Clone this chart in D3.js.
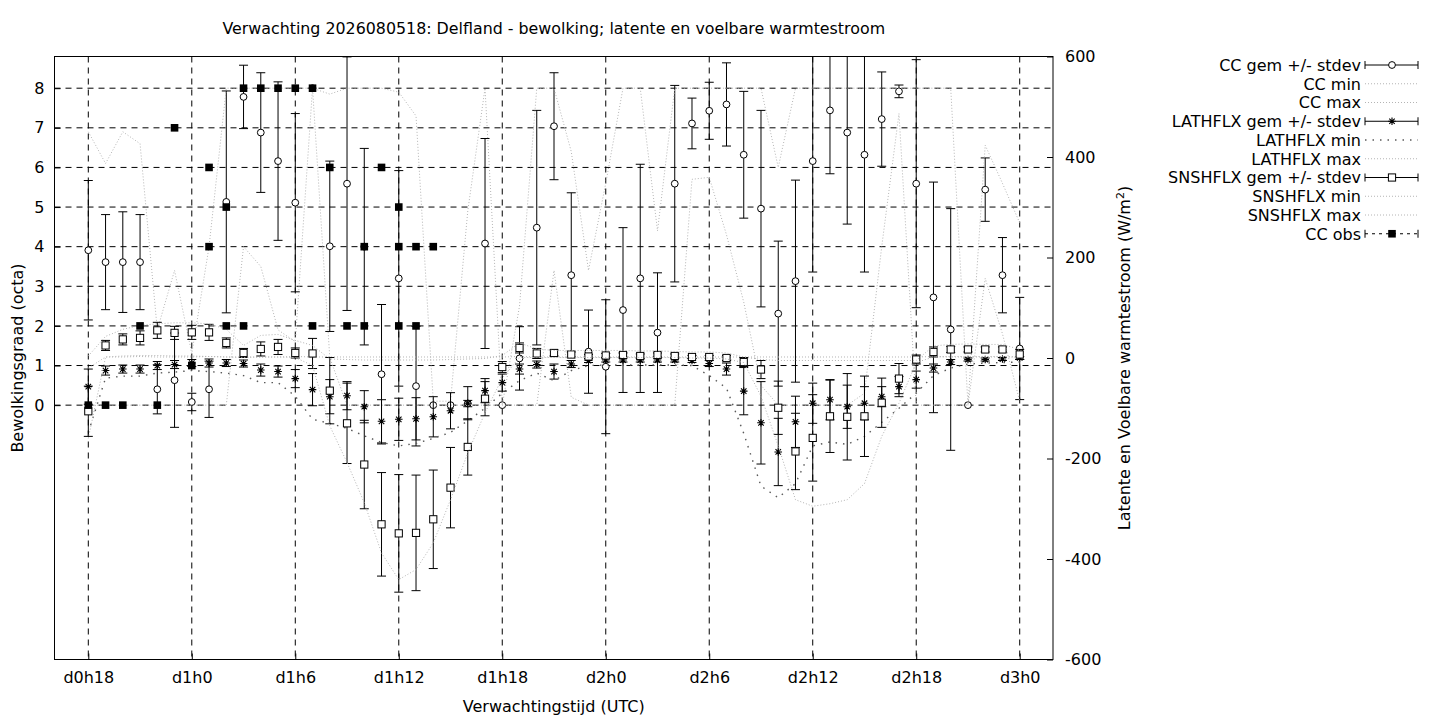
<!DOCTYPE html>
<html>
<head>
<meta charset="utf-8">
<script src="https://cdn.jsdelivr.net/npm/d3@7"></script>
<style>
  body { margin: 0; background: #fff; }
  svg { font-family: "DejaVu Sans", sans-serif; }
</style>
</head>
<body>
<div id="plot"></div>
<script>
// forecast hours (0 = d0h0)
const hours = [18,19,20,21,22,23,24,25,26,27,28,29,30,31,32,33,34,35,36,37,38,39,40,41,42,43,44,45,
  46,47,48,49,50,51,52,53,54,55,56,57,58,59,60,61,62,63,64,65,66,67,68,69,70,71,72];

// cloud cover (octa)
const ccMean = [3.91,3.61,3.61,3.61,0.40,0.63,0.08,0.40,5.13,7.78,6.88,6.16,5.11,8.00,4.01,5.59,4.00,0.78,3.20,0.48,
  0.00,0.00,0.04,4.08,0.00,1.18,4.48,7.04,3.28,1.35,0.97,2.40,3.20,1.83,5.59,7.11,7.43,7.59,6.32,4.96,
  2.31,3.13,6.16,7.44,6.88,6.32,7.22,7.92,5.59,2.72,1.91,0.00,5.44,3.28,1.43];
const ccSd = [1.76,1.20,1.27,1.20,0.62,1.19,0.22,0.71,2.80,0.80,1.51,2.00,2.25,0.00,2.15,3.20,2.48,1.76,2.72,1.51,
  0.00,0.00,0.08,2.65,0.00,0.80,2.96,1.35,2.08,1.05,1.69,2.08,2.88,1.51,2.48,0.64,0.72,1.05,1.60,2.48,
  1.83,2.55,2.80,1.60,2.31,2.96,1.19,0.16,3.13,2.91,3.05,0.00,0.80,0.95,1.29];
const ccMin = [0,0,0,0,0,0,0,0,0,4.0,3.5,1.9,1.6,8.0,1.2,0,0,0,0,0,
  0,0,0,0,0,0,0,3.4,0.2,0,0,0,0,0,0,5.7,5.75,4.3,2.6,0.5,
  0,0,0,0,0,0.3,4.0,7.36,0,0,0,0,3.2,1.8,0.1];
const ccMax = [6.9,6.1,6.9,6.6,1.9,3.4,1.3,4.0,8,8,8,8,8,8,7.85,8,8,8,7.9,7.3,
  0.1,0.1,4.9,8,0,2.5,8,8,6.4,3.4,5.6,8,8,4.4,8,8,8,8,8,8,
  6.0,8,8,8,8,8,8,8,8,8,8,0,6.56,5.6,4.6];

// latent heat flux (W/m2)
const lhMean = [-57,-25,-22,-22,-15,-13,-10,-10,-10,-11,-24,-27,-41,-63,-77,-75,-97,-126,-122,-121,
  -117,-105,-90,-65,-49,-22,-13,-27,-12,-5,-4,-4,-4,-4,-4,-5,-11,-22,-66,-129,
  -187,-127,-90,-83,-97,-90,-77,-57,-43,-20,-8,-3,-3,-2,0];
const lhSd = [35,9,8,8,8,8,7,8,7,7,12,11,18,32,34,28,32,43,42,42,
  40,36,33,24,17,10,7,15,7,4,4,4,4,4,4,4,6,12,47,82,
  67,51,40,40,43,33,20,20,17,8,5,3,3,3,3];
const lhMin = [-148,-40,-36,-36,-30,-28,-25,-27,-30,-35,-49,-49,-76,-122,-130,-140,-155,-168,-175,-170,
  -160,-148,-125,-100,-70,-45,-30,-45,-25,-15,-14,-14,-14,-14,-14,-15,-35,-60,-150,-255,
  -278,-250,-175,-167,-172,-156,-128,-100,-70,-35,-20,-12,-10,-9,-8];
const lhMax = [-20,2,2,3,2,2,2,3,2,2,2,2,3,2,2,2,2,2,2,2,
  2,2,2,2,2,3,2,2,2,2,2,2,2,2,2,2,2,2,2,2,
  2,2,2,2,2,2,2,2,2,3,2,2,2,2,3];

// sensible heat flux (W/m2)
const shMean = [-106,25,37,40,55,50,51,51,30,10,18,22,10,9,-65,-130,-212,-331,-349,-348,
  -321,-258,-177,-81,-18,20,9,10,7,3,5,6,4,6,4,2,2,0,-8,-23,
  -99,-186,-159,-116,-117,-116,-89,-41,-3,12,17,17,17,17,7];
const shSd = [50,10,11,14,16,13,14,16,10,9,14,15,10,30,66,80,88,103,117,115,
  98,80,56,34,11,10,10,6,5,4,4,4,4,4,4,3,3,5,9,18,
  53,76,86,72,86,80,49,30,9,10,6,5,5,5,10];
const shMin = [-160,2,4,5,5,4,4,3,2,1,2,2,1,-15,-135,-208,-288,-388,-441,-421,
  -368,-282,-189,-109,-40,1,1,1,1,1,1,1,1,1,1,0,0,-2,-9,-76,
  -175,-282,-295,-290,-282,-250,-156,-90,-9,2,3,3,3,3,1];
const shMax = [4,43,57,65,68,70,70,68,57,25,45,47,35,25,-2,-3,-4,-4,-4,-4,
  -4,-3,-2,-1,5,30,18,15,15,15,15,15,14,14,13,12,12,10,2,-3,
  -5,-5,-5,-5,-5,-5,-5,-5,-5,24,27,28,27,27,17];

// observed cloud cover (octa)
const obsHour = [18,19,20,21,22,23,24,25,25,26,26,27,27,28,29,30,31,31,32,33,34,34,35,36,36,36,37,37,38];
const obsCC   = [0,0,0,2,0,7,1,6,4,5,2,8,2,8,8,8,8,2,6,2,4,2,6,5,4,2,4,2,4];

// ticks
const xTickHours = [18,24,30,36,42,48,54,60,66,72];
const xTickLabels = ["d0h18","d1h0","d1h6","d1h12","d1h18","d2h0","d2h6","d2h12","d2h18","d3h0"];
const ccTicks = [0,1,2,3,4,5,6,7,8];
const fluxTicks = [-600,-400,-200,0,200,400,600];

const legendNames = ["CC gem +/- stdev","CC min","CC max","LATHFLX gem +/- stdev","LATHFLX min",
  "LATHFLX max","SNSHFLX gem +/- stdev","SNSHFLX min","SNSHFLX max","CC obs"];

const pLeft = 54.5, pRight = 1053, pTop = 56.5, pBottom = 659.5;

const svg = d3.select("#plot").append("svg")
    .attr("width", 1440)
    .attr("height", 720);

const x = d3.scaleLinear().domain([16.04, 73.93]).range([pLeft, pRight]);
const y1 = d3.scaleLinear().domain([-6.42, 8.8]).range([pBottom, pTop]);
const y2 = d3.scaleLinear().domain([-600, 600]).range([pBottom, pTop]);

const light = {stroke: "#b4b4b4", dash: "1,2", width: 1};
const dark = {stroke: "#5a5a5a", dash: "1.5,6", width: 1.4};

svg.append("defs").append("clipPath").attr("id", "clip")
  .append("rect")
    .attr("x", pLeft).attr("y", pTop)
    .attr("width", pRight - pLeft).attr("height", pBottom - pTop);

// grid
const grid = svg.append("g");
grid.selectAll("line.vg").data(xTickHours).enter().append("line")
    .attr("class", "vg")
    .attr("x1", d => x(d)).attr("x2", d => x(d))
    .attr("y1", pTop).attr("y2", pBottom)
    .attr("stroke", "black").attr("stroke-width", 1)
    .attr("stroke-dasharray", "6,5");
grid.selectAll("line.hg").data(ccTicks).enter().append("line")
    .attr("class", "hg")
    .attr("x1", pLeft).attr("x2", pRight)
    .attr("y1", d => y1(d)).attr("y2", d => y1(d))
    .attr("stroke", "black").attr("stroke-width", 1)
    .attr("stroke-dasharray", "6,5");

const plot = svg.append("g").attr("clip-path", "url(#clip)");

function drawMarker(g, type, cx, cy) {
  if (type === "circle") {
    g.append("circle").attr("cx", cx).attr("cy", cy).attr("r", 3.4)
      .attr("fill", "white").attr("stroke", "black").attr("stroke-width", 1);
  } else if (type === "box") {
    g.append("rect").attr("x", cx - 3.6).attr("y", cy - 3.6).attr("width", 7.2).attr("height", 7.2)
      .attr("fill", "white").attr("stroke", "black").attr("stroke-width", 1);
  } else if (type === "filled") {
    g.append("rect").attr("x", cx - 3.8).attr("y", cy - 3.8).attr("width", 7.6).attr("height", 7.6)
      .attr("fill", "black");
  } else if (type === "star") {
    const s = 3.8, d = s * 0.72;
    g.append("path")
      .attr("d", `M${cx - s},${cy}L${cx + s},${cy}M${cx},${cy - s}L${cx},${cy + s}` +
                 `M${cx - d},${cy - d}L${cx + d},${cy + d}M${cx - d},${cy + d}L${cx + d},${cy - d}`)
      .attr("stroke", "black").attr("stroke-width", 1.1).attr("fill", "none");
  }
}

function errorBars(mean, sd, ys, marker) {
  const g = plot.append("g");
  hours.forEach((h, i) => {
    if (sd[i] <= 0) return;
    const cx = x(h), lo = ys(mean[i] - sd[i]), hi = ys(mean[i] + sd[i]);
    g.append("line").attr("x1", cx).attr("x2", cx).attr("y1", lo).attr("y2", hi)
      .attr("stroke", "black").attr("stroke-width", 1);
    [lo, hi].forEach(yy => {
      g.append("line").attr("x1", cx - 4.5).attr("x2", cx + 4.5).attr("y1", yy).attr("y2", yy)
        .attr("stroke", "black").attr("stroke-width", 1);
    });
  });
  hours.forEach((h, i) => drawMarker(g, marker, x(h), ys(mean[i])));
}

function dottedLine(values, ys, style) {
  const line = d3.line().x((d, i) => x(hours[i])).y(d => ys(d));
  plot.append("path").datum(values)
    .attr("d", line)
    .attr("fill", "none")
    .attr("stroke", style.stroke)
    .attr("stroke-width", style.width)
    .attr("stroke-dasharray", style.dash);
}

// plotted in legend order
errorBars(ccMean, ccSd, y1, "circle");
dottedLine(ccMin, y1, light);
dottedLine(ccMax, y1, light);
errorBars(lhMean, lhSd, y2, "star");
dottedLine(lhMin, y2, dark);
dottedLine(lhMax, y2, light);
errorBars(shMean, shSd, y2, "box");
dottedLine(shMin, y2, light);
dottedLine(shMax, y2, light);

const obsG = plot.append("g");
obsHour.forEach((h, i) => drawMarker(obsG, "filled", x(h), y1(obsCC[i])));

// axes
const xAxis = d3.axisBottom(x).tickValues(xTickHours)
    .tickFormat((d, i) => xTickLabels[i]).tickSize(-6).tickPadding(12);
const gx = svg.append("g").attr("transform", `translate(0,${pBottom})`).call(xAxis);

const yAxis = d3.axisLeft(y1).tickValues(ccTicks).tickFormat(d3.format("d"))
    .tickSize(-6).tickPadding(10);
const gy = svg.append("g").attr("transform", `translate(${pLeft},0)`).call(yAxis);

const y2Axis = d3.axisRight(y2).tickValues(fluxTicks).tickFormat(d => String(d))
    .tickSize(-6).tickPadding(12);
const gy2 = svg.append("g").attr("transform", `translate(${pRight},0)`).call(y2Axis);

[gx, gy, gy2].forEach(g => {
  g.select(".domain").remove();
  g.selectAll("text").attr("font-size", 16).attr("fill", "black")
    .attr("font-family", '"DejaVu Sans", sans-serif');
  g.selectAll(".tick line").attr("stroke", "black");
});

svg.append("rect")
    .attr("x", pLeft).attr("y", pTop)
    .attr("width", pRight - pLeft).attr("height", pBottom - pTop)
    .attr("fill", "none").attr("stroke", "black").attr("stroke-width", 1);

// titles
svg.append("text")
    .attr("x", (pLeft + pRight) / 2).attr("y", 34)
    .attr("text-anchor", "middle").attr("font-size", 15.85)
    .text("Verwachting 2026080518: Delfland - bewolking; latente en voelbare warmtestroom");

svg.append("text")
    .attr("x", (pLeft + pRight) / 2).attr("y", 712)
    .attr("text-anchor", "middle").attr("font-size", 16)
    .text("Verwachtingstijd (UTC)");

svg.append("text")
    .attr("transform", `translate(23,${(pTop + pBottom) / 2}) rotate(-90)`)
    .attr("text-anchor", "middle").attr("font-size", 16)
    .text("Bewolkingsgraad (octa)");

const rl = svg.append("text")
    .attr("transform", `translate(1130,${(pTop + pBottom) / 2}) rotate(-90)`)
    .attr("text-anchor", "middle").attr("font-size", 16);
rl.append("tspan").text("Latente en Voelbare warmtestroom (W/m");
rl.append("tspan").attr("font-size", 11).attr("dy", -6).text("2");
rl.append("tspan").attr("dy", 6).text(")");

// legend
const legend = svg.append("g");
const legendTypes = [
  {kind: "err", marker: "circle"}, {kind: "line", style: light}, {kind: "line", style: light},
  {kind: "err", marker: "star"}, {kind: "line", style: dark}, {kind: "line", style: light},
  {kind: "err", marker: "box"}, {kind: "line", style: light}, {kind: "line", style: light},
  {kind: "obs", marker: "filled"}
];
legendNames.forEach((name, i) => {
  const yy = 65 + i * 18.75;
  const lx0 = 1365, lx1 = 1418;
  legend.append("text")
    .attr("x", 1361).attr("y", yy).attr("dy", "0.36em")
    .attr("text-anchor", "end").attr("font-size", 16)
    .text(name);
  const t = legendTypes[i];
  if (t.kind === "line") {
    legend.append("line").attr("x1", lx0).attr("x2", lx1).attr("y1", yy).attr("y2", yy)
      .attr("stroke", t.style.stroke).attr("stroke-width", t.style.width)
      .attr("stroke-dasharray", t.style.dash);
  } else {
    legend.append("line").attr("x1", lx0).attr("x2", lx1).attr("y1", yy).attr("y2", yy)
      .attr("stroke", "black").attr("stroke-width", 1)
      .attr("stroke-dasharray", t.kind === "obs" ? "3,4" : null);
    [lx0, lx1].forEach(cx => legend.append("line")
      .attr("x1", cx).attr("x2", cx).attr("y1", yy - 4).attr("y2", yy + 4)
      .attr("stroke", "black").attr("stroke-width", 1));
    drawMarker(legend, t.marker, 1392, yy);
  }
});
</script>
</body>
</html>
